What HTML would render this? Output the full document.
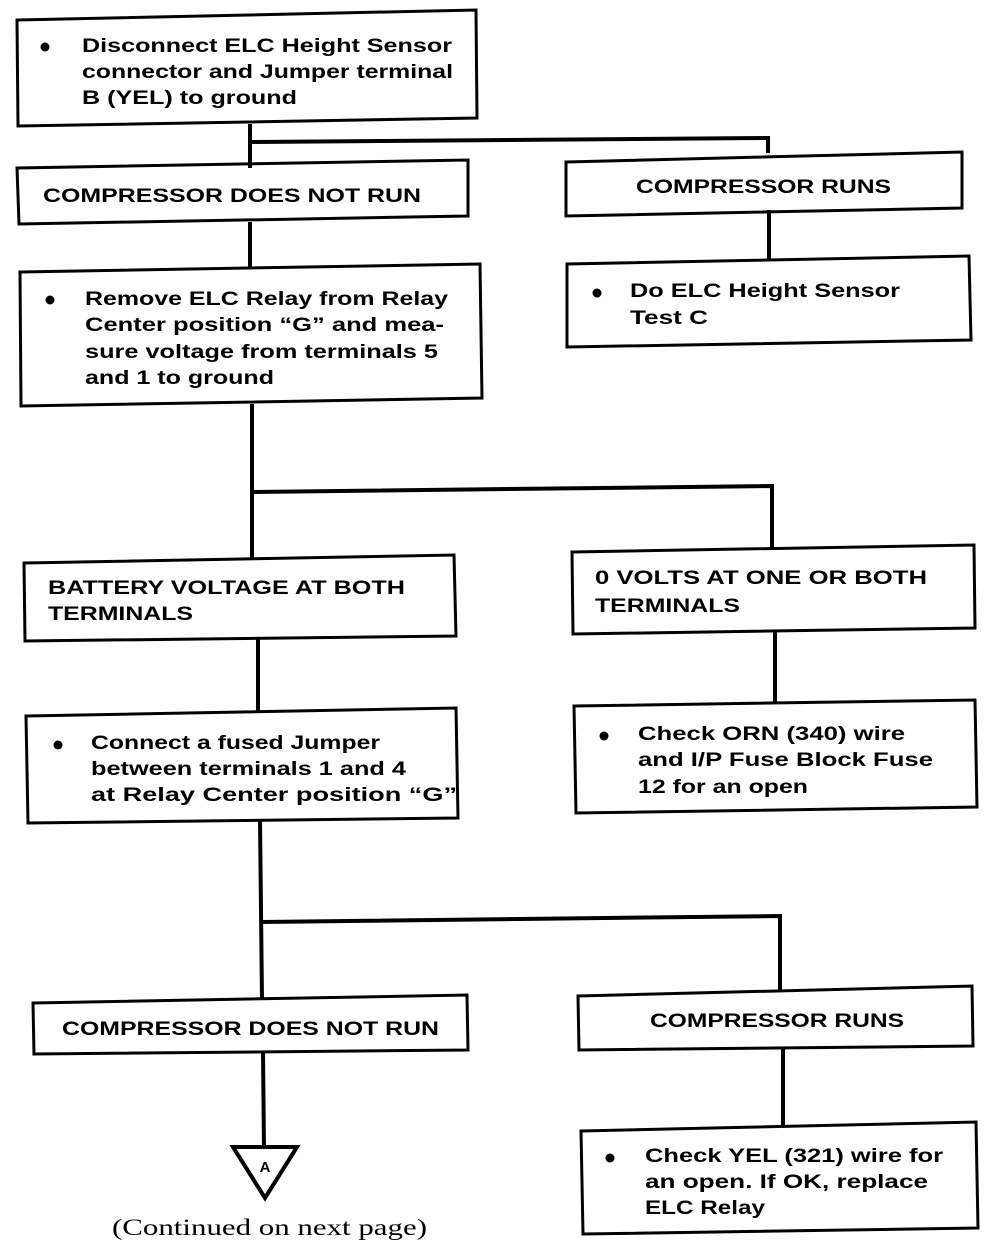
<!DOCTYPE html>
<html><head><meta charset="utf-8"><style>
html,body{margin:0;padding:0;background:#fff;}
svg{display:block;}
text{font-family:"Liberation Sans",sans-serif;font-weight:bold;font-size:19px;fill:#000;}
.s{font-family:"Liberation Serif",serif;font-weight:normal;font-size:23px;}
</style></head><body>
<svg width="1008" height="1246" viewBox="0 0 1008 1246" xmlns="http://www.w3.org/2000/svg">
<g fill="none" stroke="#000" stroke-width="3" stroke-linejoin="miter">
<polygon points="17,20 476,10 477,118 18,126"/>
<polygon points="17,168 468,160 468,216 19,224"/>
<polygon points="566,162 962,152 962,208 566,216"/>
<polygon points="20,272 480,264 482,398 21,406"/>
<polygon points="567,264 969,256 971,340 567,347"/>
<polygon points="24,563 454,555 456,636 25,641"/>
<polygon points="572,552 974,545 975,628 573,634"/>
<polygon points="26,716 456,708 458,818 28,823"/>
<polygon points="574,706 975,700 977,807 576,813"/>
<polygon points="33,1003 467,995 468,1050 34,1054"/>
<polygon points="578,996 972,986 973,1046 579,1050"/>
<polygon points="581,1131 976,1122 978,1228 583,1234"/>
</g>
<g fill="none" stroke="#000" stroke-width="4">
<polyline points="250,124 250,168"/>
<polyline points="250,142 768,138 768,153"/>
<polyline points="250,222 250,268"/>
<polyline points="769,210 769,260"/>
<polyline points="252,404 252,560"/>
<polyline points="252,492 772,486 772,548"/>
<polyline points="258,639 258,712"/>
<polyline points="775,630 775,703"/>
<polyline points="260,820 262,1000"/>
<polyline points="261,922 780,916 780,990"/>
<polyline points="263,1052 264,1148"/>
<polyline points="783,1048 783,1126"/>
<polygon points="233,1147 297,1147 265,1198" stroke-width="4"/>
</g>
<g fill="#000">
<circle cx="45" cy="47" r="4.5"/>
<circle cx="50" cy="300" r="4.5"/>
<circle cx="597" cy="293" r="4.5"/>
<circle cx="58" cy="745" r="4.5"/>
<circle cx="604" cy="736" r="4.5"/>
<circle cx="610" cy="1158" r="4.5"/>
</g>
<text x="82" y="52" textLength="370" lengthAdjust="spacingAndGlyphs">Disconnect ELC Height Sensor</text>
<text x="82" y="78" textLength="371" lengthAdjust="spacingAndGlyphs">connector and Jumper terminal</text>
<text x="82" y="104" textLength="215" lengthAdjust="spacingAndGlyphs">B (YEL) to ground</text>
<text x="43" y="202" textLength="378" lengthAdjust="spacingAndGlyphs">COMPRESSOR DOES NOT RUN</text>
<text x="636" y="193" textLength="255" lengthAdjust="spacingAndGlyphs">COMPRESSOR RUNS</text>
<text x="85" y="305" textLength="363" lengthAdjust="spacingAndGlyphs">Remove ELC Relay from Relay</text>
<text x="85" y="331" textLength="359" lengthAdjust="spacingAndGlyphs">Center position “G” and mea-</text>
<text x="85" y="358" textLength="353" lengthAdjust="spacingAndGlyphs">sure voltage from terminals 5</text>
<text x="85" y="384" textLength="189" lengthAdjust="spacingAndGlyphs">and 1 to ground</text>
<text x="630" y="297" textLength="270" lengthAdjust="spacingAndGlyphs">Do ELC Height Sensor</text>
<text x="630" y="324" textLength="78" lengthAdjust="spacingAndGlyphs">Test C</text>
<text x="48" y="594" textLength="357" lengthAdjust="spacingAndGlyphs">BATTERY VOLTAGE AT BOTH</text>
<text x="48" y="620" textLength="145" lengthAdjust="spacingAndGlyphs">TERMINALS</text>
<text x="595" y="584" textLength="332" lengthAdjust="spacingAndGlyphs">0 VOLTS AT ONE OR BOTH</text>
<text x="595" y="612" textLength="145" lengthAdjust="spacingAndGlyphs">TERMINALS</text>
<text x="91" y="749" textLength="289" lengthAdjust="spacingAndGlyphs">Connect a fused Jumper</text>
<text x="91" y="775" textLength="315" lengthAdjust="spacingAndGlyphs">between terminals 1 and 4</text>
<text x="91" y="801" textLength="366" lengthAdjust="spacingAndGlyphs">at Relay Center position “G”</text>
<text x="638" y="740" textLength="267" lengthAdjust="spacingAndGlyphs">Check ORN (340) wire</text>
<text x="638" y="766" textLength="295" lengthAdjust="spacingAndGlyphs">and I/P Fuse Block Fuse</text>
<text x="638" y="793" textLength="170" lengthAdjust="spacingAndGlyphs">12 for an open</text>
<text x="62" y="1035" textLength="377" lengthAdjust="spacingAndGlyphs">COMPRESSOR DOES NOT RUN</text>
<text x="650" y="1027" textLength="254" lengthAdjust="spacingAndGlyphs">COMPRESSOR RUNS</text>
<text x="645" y="1162" textLength="298" lengthAdjust="spacingAndGlyphs">Check YEL (321) wire for</text>
<text x="645" y="1188" textLength="283" lengthAdjust="spacingAndGlyphs">an open. If OK, replace</text>
<text x="645" y="1214" textLength="120" lengthAdjust="spacingAndGlyphs">ELC Relay</text>
<text x="265" y="1172" text-anchor="middle" style="font-size:15px">A</text>
<text class="s" x="112" y="1235" textLength="315" lengthAdjust="spacingAndGlyphs">(Continued on next page)</text>
</svg>
</body></html>
